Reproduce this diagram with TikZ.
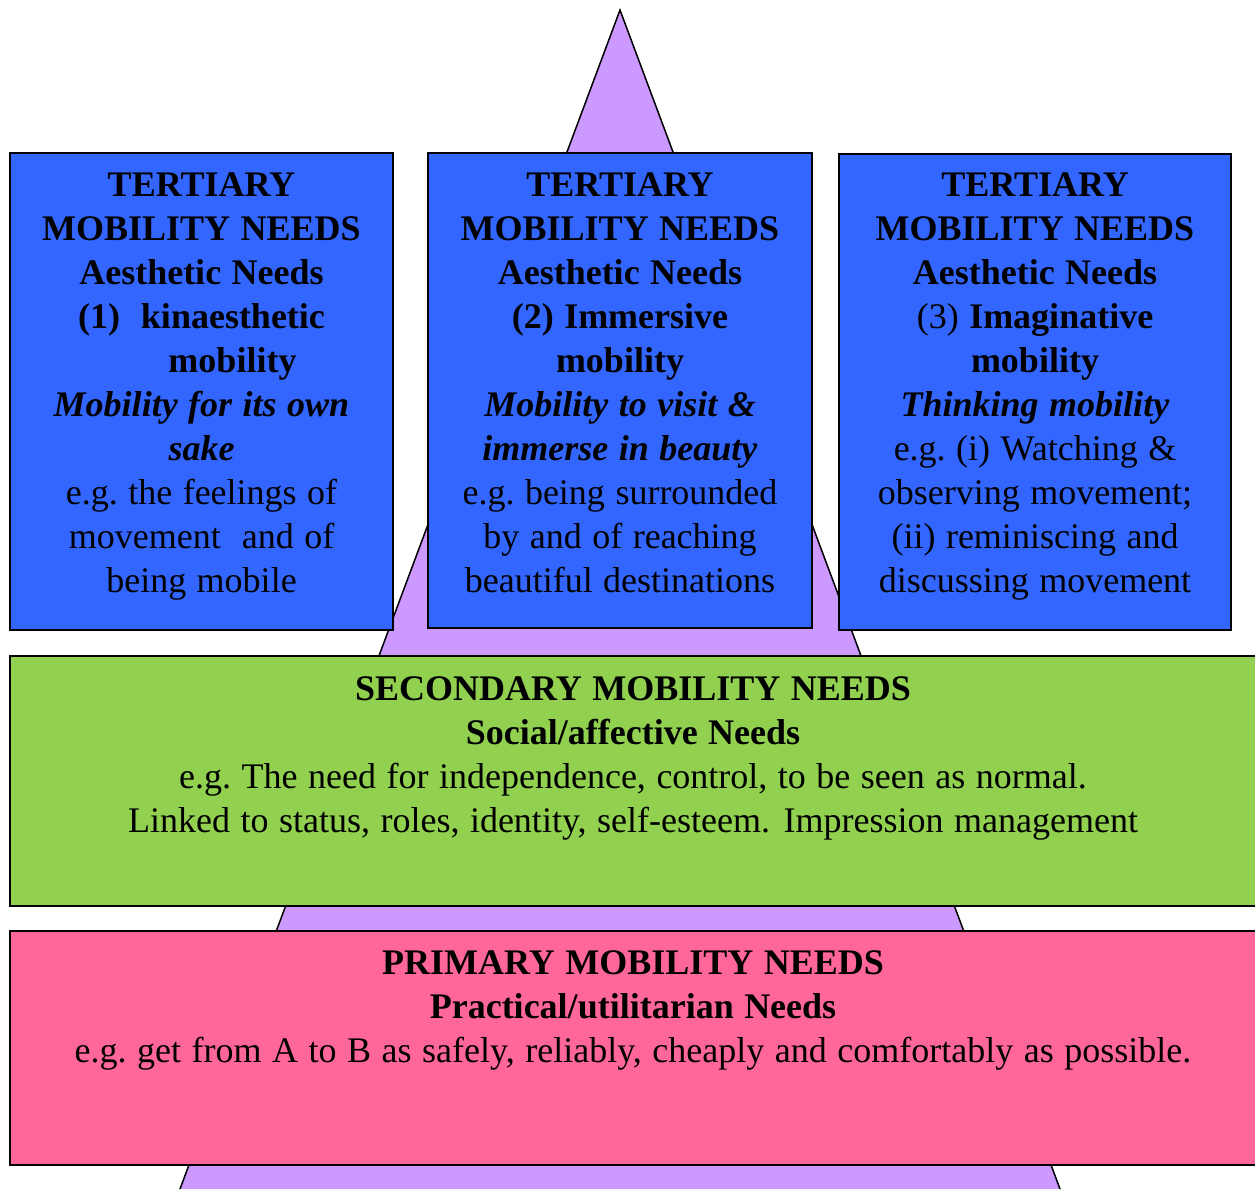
\documentclass[tikz,border=0pt]{standalone}
\usepackage{fontspec}
\setmainfont{Liberation Serif}
\definecolor{triPurple}{HTML}{CC99FF}
\definecolor{tertBlue}{HTML}{3366FF}
\definecolor{secGreen}{HTML}{92D050}
\definecolor{primPink}{HTML}{FF6699}
\newcommand\mylines[1]{{\setlength\tabcolsep{0pt}\begin{tabular}[t]{c}#1\end{tabular}}}
\newcommand\bi[1]{\textbf{\textit{#1}}}
\newcommand\widerspace{\spaceskip=10.5pt\relax}
\begin{document}
\begin{tikzpicture}[x=1pt,y=-1pt,
  box/.style={draw=black, line width=1.5pt, inner sep=0pt, outer sep=0pt},
  txt/.style={inner sep=0pt, outer sep=0pt, anchor=base, font=\fontsize{36}{44}\selectfont\widerspace}]
\useasboundingbox (0,0) rectangle (1255,1189);
\clip (0,0) rectangle (1255,1189);
% pyramid
\coordinate (apex) at (620,10);
\coordinate (bl) at (180,1189);
\coordinate (br) at (1060,1189);
\filldraw[fill=triPurple, draw=black, line width=1.5pt, line join=miter] (bl) -- (apex) -- (br);
% tertiary boxes
\node[box, fill=tertBlue, minimum width=383pt, minimum height=477pt] (t1) at (201.5,391.5) {};
\node[box, fill=tertBlue, minimum width=384pt, minimum height=475pt] (t2) at (620,390.5) {};
\node[box, fill=tertBlue, minimum width=392pt, minimum height=476pt] (t3) at (1035,392) {};
% secondary and primary
\node[box, fill=secGreen, minimum width=1265pt, minimum height=250pt] (sec) at (642.5,781) {};
\node[box, fill=primPink, minimum width=1265pt, minimum height=234pt] (prim) at (642.5,1048) {};
% texts
\node[txt] (t1text) at (201.5,196) {\mylines{%
  \textbf{TERTIARY}\\
  \textbf{MOBILITY NEEDS}\\
  \textbf{Aesthetic Needs}\\
  \textbf{(1)\ \ kinaesthetic}\\
  \hspace*{62pt}\textbf{mobility}\\
  \bi{Mobility for its own}\\
  \bi{sake}\\
  e.g.\ the feelings of\\
  movement\ \ and of\\
  being mobile}};
\node[txt] (t2text) at (620,196) {\mylines{%
  \textbf{TERTIARY}\\
  \textbf{MOBILITY NEEDS}\\
  \textbf{Aesthetic Needs}\\
  \textbf{(2) Immersive}\\
  \textbf{mobility}\\
  \bi{Mobility to visit \&}\\
  \bi{immerse in beauty}\\
  e.g.\ being surrounded\\
  by and of reaching\\
  beautiful destinations}};
\node[txt] (t3text) at (1035,196) {\mylines{%
  \textbf{TERTIARY}\\
  \textbf{MOBILITY NEEDS}\\
  \textbf{Aesthetic Needs}\\
  (3) \textbf{Imaginative}\\
  \textbf{mobility}\\
  \bi{Thinking mobility}\\
  e.g.\ (i) Watching \&\\
  observing movement;\\
  (ii) reminiscing and\\
  discussing movement}};
\node[txt] (sectext) at (633,700) {\mylines{%
  \textbf{SECONDARY MOBILITY NEEDS}\\
  \textbf{Social/affective Needs}\\
  e.g.\ The need for independence, control, to be seen as normal.\\
  Linked to status, roles, identity, self-esteem. Impression management}};
\node[txt] (primtext) at (633,974) {\mylines{%
  \textbf{PRIMARY MOBILITY NEEDS}\\
  \textbf{Practical/utilitarian Needs}\\
  e.g.\ get from A to B as safely, reliably, cheaply and comfortably as possible.}};
\end{tikzpicture}
\end{document}
